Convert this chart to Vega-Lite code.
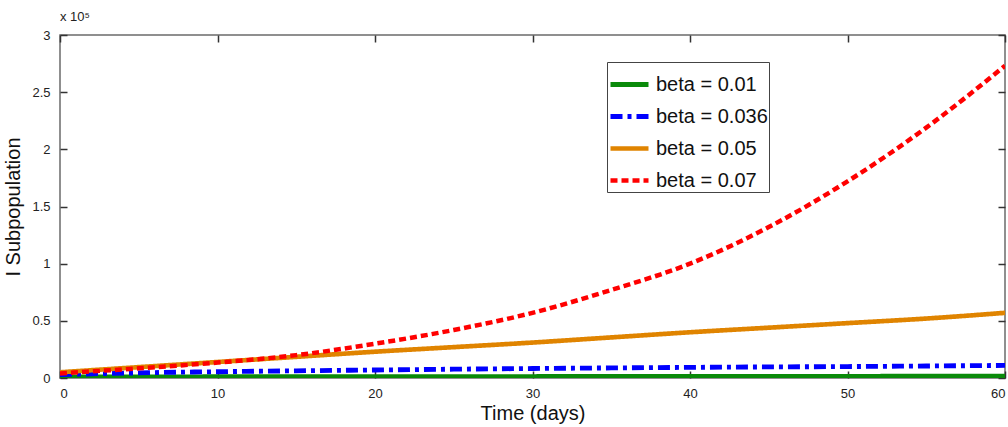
{
  "$schema": "https://vega.github.io/schema/vega-lite/v6.json",
  "width": 945,
  "height": 343,
  "autosize": "none",
  "padding": {"left": 60, "top": 35, "right": 3, "bottom": 49},
  "background": "white",
  "title": {"text": "x 10⁵", "anchor": "start", "frame": "group", "fontSize": 13, "fontWeight": "normal", "font": "Liberation Sans", "color": "#222", "offset": 5},
  "config": {
    "font": "Liberation Sans",
    "view": {"stroke": "#6b6b6b", "strokeWidth": 1.5}
  },
  "data": {"values": [
    {"t": 0, "beta": "beta = 0.01", "I": 800},
    {"t": 5, "beta": "beta = 0.01", "I": 900},
    {"t": 10, "beta": "beta = 0.01", "I": 1000},
    {"t": 15, "beta": "beta = 0.01", "I": 1050},
    {"t": 20, "beta": "beta = 0.01", "I": 1100},
    {"t": 25, "beta": "beta = 0.01", "I": 1150},
    {"t": 30, "beta": "beta = 0.01", "I": 1200},
    {"t": 35, "beta": "beta = 0.01", "I": 1250},
    {"t": 40, "beta": "beta = 0.01", "I": 1300},
    {"t": 45, "beta": "beta = 0.01", "I": 1350},
    {"t": 50, "beta": "beta = 0.01", "I": 1400},
    {"t": 55, "beta": "beta = 0.01", "I": 1450},
    {"t": 60, "beta": "beta = 0.01", "I": 1500},
    {"t": 0, "beta": "beta = 0.036", "I": 3000},
    {"t": 5, "beta": "beta = 0.036", "I": 4500},
    {"t": 10, "beta": "beta = 0.036", "I": 5500},
    {"t": 15, "beta": "beta = 0.036", "I": 6300},
    {"t": 20, "beta": "beta = 0.036", "I": 7000},
    {"t": 25, "beta": "beta = 0.036", "I": 7700},
    {"t": 30, "beta": "beta = 0.036", "I": 8300},
    {"t": 35, "beta": "beta = 0.036", "I": 8800},
    {"t": 40, "beta": "beta = 0.036", "I": 9300},
    {"t": 45, "beta": "beta = 0.036", "I": 9700},
    {"t": 50, "beta": "beta = 0.036", "I": 10000},
    {"t": 55, "beta": "beta = 0.036", "I": 10500},
    {"t": 60, "beta": "beta = 0.036", "I": 11000},
    {"t": 0, "beta": "beta = 0.05", "I": 5000},
    {"t": 5, "beta": "beta = 0.05", "I": 9500},
    {"t": 10, "beta": "beta = 0.05", "I": 14000},
    {"t": 15, "beta": "beta = 0.05", "I": 18500},
    {"t": 20, "beta": "beta = 0.05", "I": 23000},
    {"t": 25, "beta": "beta = 0.05", "I": 27000},
    {"t": 30, "beta": "beta = 0.05", "I": 31000},
    {"t": 35, "beta": "beta = 0.05", "I": 35500},
    {"t": 40, "beta": "beta = 0.05", "I": 40000},
    {"t": 45, "beta": "beta = 0.05", "I": 44000},
    {"t": 50, "beta": "beta = 0.05", "I": 48000},
    {"t": 55, "beta": "beta = 0.05", "I": 52000},
    {"t": 60, "beta": "beta = 0.05", "I": 57000},
    {"t": 0, "beta": "beta = 0.07", "I": 4000},
    {"t": 5, "beta": "beta = 0.07", "I": 8500},
    {"t": 10, "beta": "beta = 0.07", "I": 13500},
    {"t": 15, "beta": "beta = 0.07", "I": 20000},
    {"t": 20, "beta": "beta = 0.07", "I": 30000},
    {"t": 25, "beta": "beta = 0.07", "I": 42000},
    {"t": 30, "beta": "beta = 0.07", "I": 57000},
    {"t": 35, "beta": "beta = 0.07", "I": 77000},
    {"t": 40, "beta": "beta = 0.07", "I": 100000},
    {"t": 45, "beta": "beta = 0.07", "I": 132000},
    {"t": 50, "beta": "beta = 0.07", "I": 172000},
    {"t": 55, "beta": "beta = 0.07", "I": 219000},
    {"t": 60, "beta": "beta = 0.07", "I": 273000}
  ]},
  "layer": [
    {
      "mark": {"type": "line", "interpolate": "monotone", "clip": true},
      "encoding": {
        "x": {"field": "t", "type": "quantitative", "scale": {"domain": [0, 60], "nice": false, "zero": false}, "axis": {"orient": "bottom", "values": [0, 10, 20, 30, 40, 50, 60], "title": "Time (days)", "domain": false, "grid": false, "ticks": true, "tickSize": 7, "offset": -7, "tickColor": "#333", "tickWidth": 1.5, "labelFontSize": 13, "labelColor": "#222", "labelPadding": 9, "titleFontSize": 20, "titleFontWeight": "normal", "titleColor": "#111", "titlePadding": 3}},
        "y": {"field": "I", "type": "quantitative", "scale": {"domain": [0, 300000], "nice": false}, "axis": {"orient": "left", "values": [0, 50000, 100000, 150000, 200000, 250000, 300000], "labelExpr": "datum.value / 100000", "title": "I Subpopulation", "domain": false, "grid": false, "ticks": true, "tickSize": 7, "offset": -7, "tickColor": "#333", "tickWidth": 1.5, "labelFontSize": 13, "labelColor": "#222", "labelPadding": 10, "titleFontSize": 20, "titleFontWeight": "normal", "titleColor": "#111", "titlePadding": 8}},
        "color": {"field": "beta", "type": "nominal", "title": null, "scale": {"domain": ["beta = 0.01", "beta = 0.036", "beta = 0.05", "beta = 0.07"], "range": ["#0a8a0a", "#0000ff", "#e08400", "#ff0000"]},
          "legend": {"orient": "none", "legendX": 547, "legendY": 27, "padding": 1, "strokeColor": "#444", "fillColor": "white", "labelFontSize": 20, "labelColor": "#111", "symbolType": "stroke", "symbolSize": 1444, "rowPadding": -2, "labelOffset": 5}},
        "strokeDash": {"field": "beta", "type": "nominal", "title": null, "scale": {"domain": ["beta = 0.01", "beta = 0.036", "beta = 0.05", "beta = 0.07"], "range": [[1, 0], [12, 5, 4, 5], [1, 0], [7, 4]]}},
        "strokeWidth": {"field": "beta", "type": "nominal", "title": null, "scale": {"domain": ["beta = 0.01", "beta = 0.036", "beta = 0.05", "beta = 0.07"], "range": [5, 4.5, 4, 3]}},
        "order": {"field": "t", "type": "quantitative"}
      }
    },
    {
      "mark": {"type": "line", "opacity": 0},
      "encoding": {
        "x": {"field": "t", "type": "quantitative", "axis": {"orient": "top", "values": [0, 10, 20, 30, 40, 50, 60], "labels": false, "title": null, "domain": false, "grid": false, "ticks": true, "tickSize": 7, "offset": -7, "tickColor": "#333", "tickWidth": 1.5}},
        "y": {"field": "I", "type": "quantitative", "axis": {"orient": "right", "values": [0, 50000, 100000, 150000, 200000, 250000, 300000], "labels": false, "title": null, "domain": false, "grid": false, "ticks": true, "tickSize": 7, "offset": -7, "tickColor": "#333", "tickWidth": 1.5}},
        "detail": {"field": "beta"}
      }
    }
  ]
}
